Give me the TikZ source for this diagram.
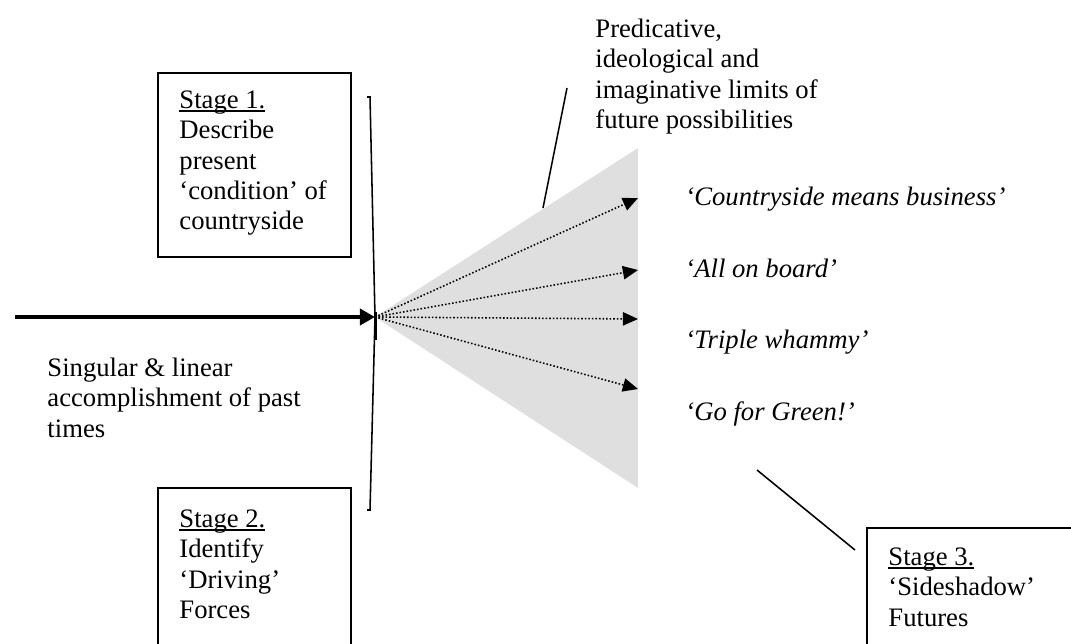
\documentclass[tikz,border=0pt]{standalone}
\usepackage{fontspec}
\setmainfont{Liberation Serif}
\usetikzlibrary{arrows.meta}
\newcommand\stageul[1]{\setbox0\hbox{#1}\rlap{\rule[-1.4pt]{\wd0}{0.6pt}}#1}
\begin{document}
\begin{tikzpicture}[x=0.45pt,y=-0.45pt,
  txt/.style={anchor=north west, inner sep=0pt, align=left, font=\fontsize{12}{13.6}\selectfont},
  lbl/.style={anchor=base west, inner sep=0pt, font=\fontsize{12}{13.6}\selectfont\itshape},
  stagebox/.style={draw, line width=0.7pt},
  thin/.style={line width=0.7pt},
  fut/.style={line width=0.7pt, dash pattern=on 0.7pt off 0.9pt, -{Triangle[length=6.8pt,width=6pt]}},
  main/.style={line width=1.8pt, -{Triangle[length=6.8pt,width=7.2pt]}}]
\useasboundingbox (0,0) rectangle (1071,643);
\clip (0,0) rectangle (1071,643);

% shaded fan
\coordinate (apex) at (375,317);
\coordinate (ftop) at (638,148);
\coordinate (fbot) at (638,488);
\fill[gray!25] (apex) -- (ftop) -- (fbot) -- cycle;

% stage boxes
\draw[stagebox] (158,73) rectangle (351,257);
\draw[stagebox] (158,488) rectangle (351,660);
\draw[stagebox] (867,528) rectangle (1090,660);

\node[txt] (s1) at (179,87) {\strut\stageul{Stage 1.}\\Describe\\present\\‘condition’ of\\countryside};
\node[txt] (s2) at (179,506) {\strut\stageul{Stage 2.}\\Identify\\‘Driving’\\Forces};
\node[txt] (s3) at (888,544) {\strut\stageul{Stage 3.}\\‘Sideshadow’\\Futures};

% past text
\node[txt] (past) at (47,355) {\strut Singular \& linear\\accomplishment of past\\times};

% limits text
\node[txt] (lim) at (595,16) {\strut Predicative,\\ideological and\\imaginative limits of\\future possibilities};

% bracket
\coordinate (bt) at (367,97);
\coordinate (bb) at (367,510);
\draw[thin] (bt) -- (370,97) -- (375,317) -- (370,510) -- (bb);
\draw[line width=1.1pt] (376,312) -- (376,340);

% main arrow
\coordinate (pstart) at (15,317);
\draw[main] (pstart) -- (apex);

% futures
\coordinate (t1) at (638,198);
\coordinate (t2) at (638,270);
\coordinate (t3) at (638,319);
\coordinate (t4) at (638,389);
\draw[fut] (apex) -- (t1);
\draw[fut] (apex) -- (t2);
\draw[fut] (apex) -- (t3);
\draw[fut] (apex) -- (t4);

\node[lbl] (f1) at (685,205) {‘Countryside means business’};
\node[lbl] (f2) at (685,277) {‘All on board’};
\node[lbl] (f3) at (685,348) {‘Triple whammy’};
\node[lbl] (f4) at (685,420) {‘Go for Green!’};

% pointer lines
\coordinate (l1a) at (567,88);
\coordinate (l1b) at (543,208);
\draw[thin] (l1a) -- (l1b);
\coordinate (l2a) at (757,470);
\coordinate (l2b) at (855,550);
\draw[thin] (l2a) -- (l2b);
\end{tikzpicture}
\end{document}
